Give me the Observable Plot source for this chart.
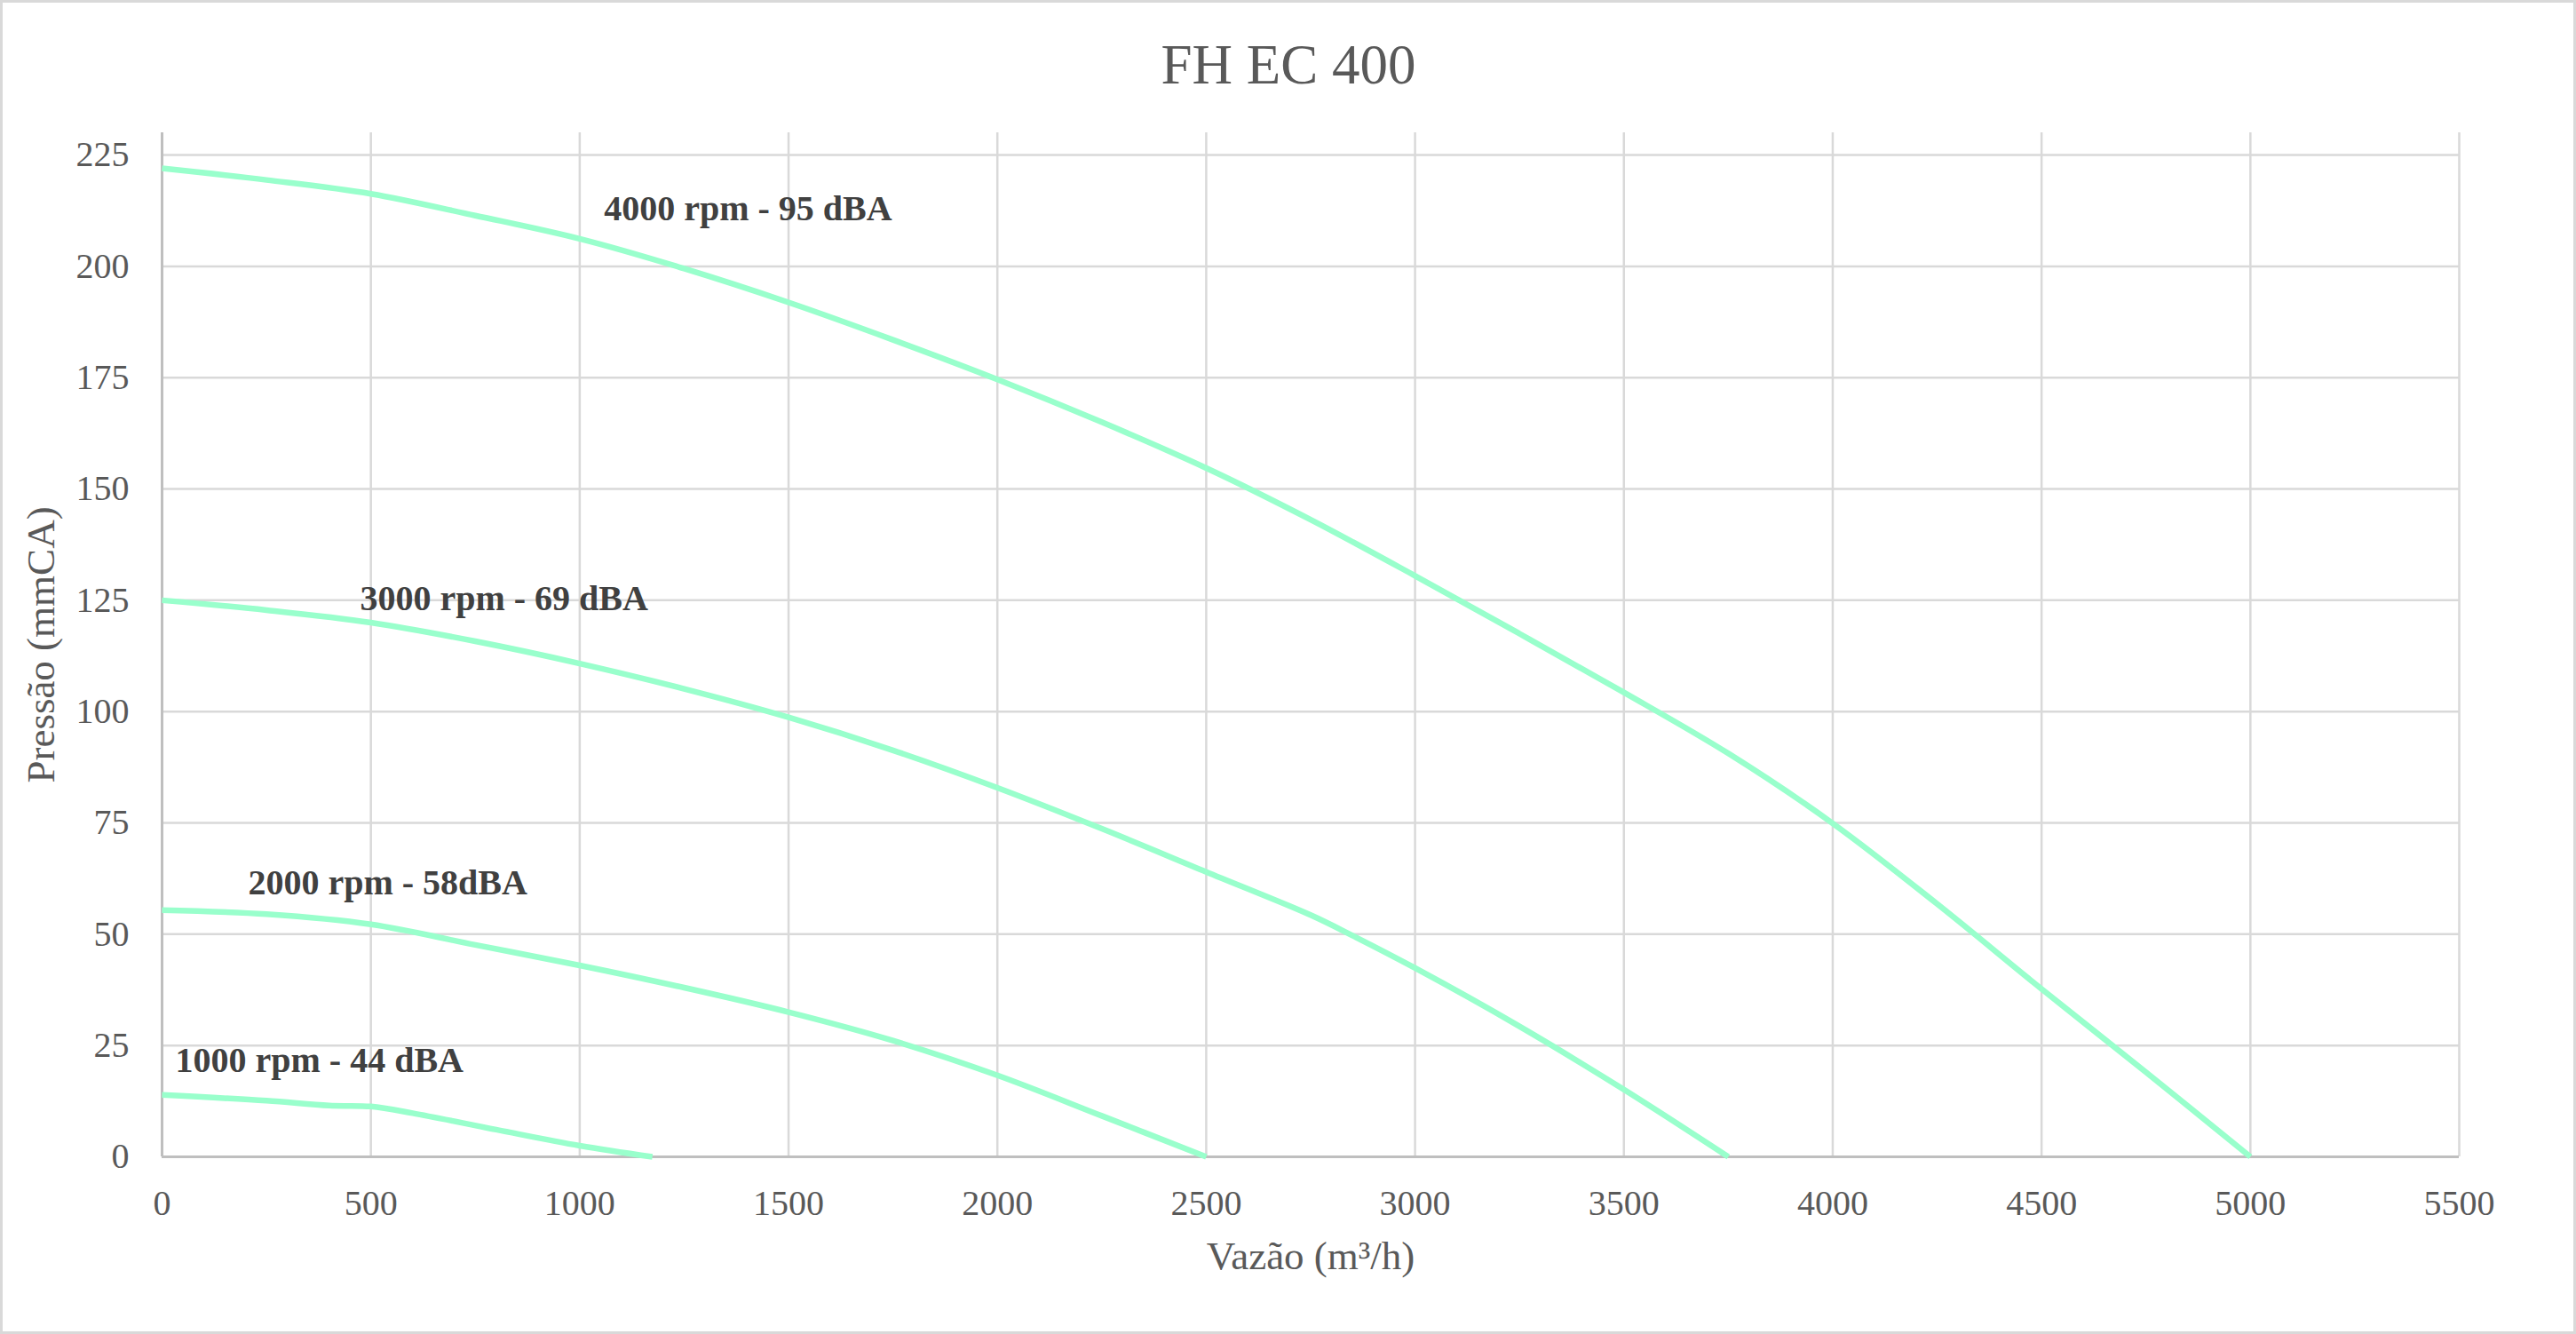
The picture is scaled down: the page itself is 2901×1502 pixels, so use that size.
<!DOCTYPE html>
<html>
<head>
<meta charset="utf-8">
<script src="https://cdn.jsdelivr.net/npm/d3@7"></script>
<script src="https://cdn.jsdelivr.net/npm/@observablehq/plot@0.6"></script>
<style>
  html, body { margin: 0; padding: 0; background: #fff; }
  #wrap { position: relative; width: 2901px; height: 1502px; overflow: hidden; }
  #border { position: absolute; left: 0; top: 0; width: 2901px; height: 1502px; box-sizing: border-box; border: 3px solid #d9d9d9; pointer-events: none; }
</style>
</head>
<body>
<div id="wrap"><div id="chart"></div><div id="border"></div></div>
<script>
const chartTitle = "FH EC 400";
const xLabel = "Vazão (m³/h)";
const yLabel = "Pressão (mmCA)";
const xTicks = [0, 500, 1000, 1500, 2000, 2500, 3000, 3500, 4000, 4500, 5000, 5500];
const yTicks = [0, 25, 50, 75, 100, 125, 150, 175, 200, 225];

const q4000 = [0, 250, 500, 750, 1000, 1250, 1500, 1750, 2000, 2250, 2500, 2750, 3000, 3250, 3500, 3750, 4000, 4250, 4500, 4750, 5000];
const p4000 = [222, 219.4, 216.3, 211.4, 206.2, 199.5, 191.9, 183.5, 174.6, 165, 154.7, 143.1, 130.5, 117.5, 104.3, 90.6, 74.9, 56.8, 37.7, 19, 0];

const q3000 = [0, 250, 500, 750, 1000, 1250, 1500, 1750, 2000, 2250, 2500, 2750, 2850, 3000, 3250, 3500, 3750];
const p3000 = [125, 122.8, 120, 115.8, 110.8, 105.1, 98.7, 91.3, 82.9, 73.7, 64, 54.3, 49.7, 42.4, 29.3, 15.1, 0];

const q2000 = [0, 250, 500, 750, 1000, 1250, 1500, 1750, 2000, 2250, 2500];
const p2000 = [55.4, 54.5, 52.2, 47.6, 43, 38, 32.5, 26.1, 18.3, 9.2, 0];

const q1000 = [0, 250, 400, 500, 600, 800, 1000, 1174];
const p1000 = [13.9, 12.6, 11.5, 11.3, 9.8, 6.1, 2.5, 0];

const seriesNames = ["4000 rpm - 95 dBA", "3000 rpm - 69 dBA", "2000 rpm - 58dBA", "1000 rpm - 44 dBA"];
const labelQ = [1058, 474, 206, 32];
const labelP = [212.9, 125.3, 61.5, 21.6];

const curves = [[q4000, p4000], [q3000, p3000], [q2000, p2000], [q1000, p1000]];
const rows = curves.flatMap(([qs, ps], i) => qs.map((q, j) => ({series: seriesNames[i], q, p: ps[j]})));
const labels = seriesNames.map((s, i) => ({text: s, q: labelQ[i], p: labelP[i]}));

const lineColor = "#99ffcc";
const gridColor = "#d9d9d9";
const axisColor = "#bfbfbf";
const font = "'Liberation Serif', 'Times New Roman', serif";

const plot = Plot.plot({
  width: 2901,
  height: 1502,
  marginLeft: 182,
  marginRight: 132,
  marginTop: 149,
  marginBottom: 200,
  style: {fontFamily: font, fontSize: "40px", color: "#595959", background: "#ffffff"},
  x: {domain: [0, 5500], axis: null},
  y: {domain: [0, 230], axis: null},
  marks: [
    Plot.gridX(xTicks, {stroke: gridColor, strokeOpacity: 1, strokeWidth: 2.5}),
    Plot.gridY(yTicks, {stroke: gridColor, strokeOpacity: 1, strokeWidth: 2.5}),
    Plot.ruleX([0], {stroke: axisColor, strokeWidth: 3}),
    Plot.ruleY([0], {stroke: axisColor, strokeWidth: 3}),
    Plot.axisX(xTicks, {tickSize: 0, tickPadding: 37, label: null, tickFormat: d => String(d), fontSize: 40, fill: "#595959"}),
    Plot.axisY(yTicks, {tickSize: 0, tickPadding: 37, label: null, tickFormat: d => String(d), fontSize: 40, fill: "#595959"}),
    Plot.line(rows, {x: "q", y: "p", z: "series", stroke: lineColor, strokeWidth: 6.5, curve: "catmull-rom", strokeLinecap: "butt"}),
    Plot.text(labels, {x: "q", y: "p", text: "text", textAnchor: "start", fontSize: 40, fontWeight: "bold", fill: "#404040"}),
    Plot.text([chartTitle], {text: d => d, frameAnchor: "top", textAnchor: "middle", lineAnchor: "middle", dx: -25, dy: -76, fontSize: 63, fill: "#595959"}),
    Plot.text([xLabel], {text: d => d, frameAnchor: "bottom", textAnchor: "middle", lineAnchor: "middle", dy: 112, fontSize: 45, fill: "#595959"}),
    Plot.text([yLabel], {text: d => d, frameAnchor: "left", textAnchor: "middle", lineAnchor: "middle", dx: -136, rotate: -90, fontSize: 45, fill: "#595959"})
  ]
});
document.getElementById("chart").appendChild(plot);
</script>
</body>
</html>
